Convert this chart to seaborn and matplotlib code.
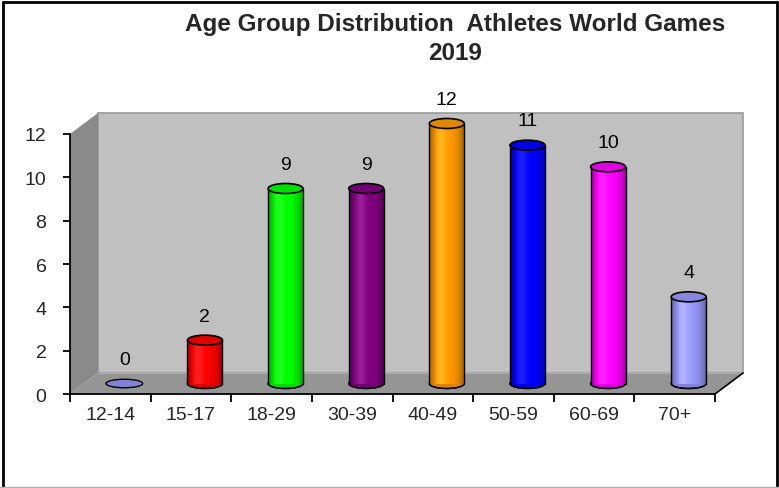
import numpy as np
import pandas as pd
import matplotlib
matplotlib.use("Agg")
import matplotlib.pyplot as plt
from matplotlib.patches import Polygon, Ellipse, Rectangle, Arc
import matplotlib.colors as mcolors
import seaborn as sns

# ---- data ----
categories = ["12-14", "15-17", "18-29", "30-39", "40-49", "50-59", "60-69", "70+"]
values = [0, 2, 9, 9, 12, 11, 10, 4]
colors = ["#9999ff", "#ff0000", "#00ff00", "#800080", "#ff9900", "#0000ff", "#ff00ff", "#9999ff"]
yticks = [0, 2, 4, 6, 8, 10, 12]
title_lines = ["Age Group Distribution  Athletes World Games", "2019"]

sns.set_theme(style="white")
plt.rcParams["font.family"] = ["Liberation Sans", "DejaVu Sans"]

W, H = 779, 489
fig = plt.figure(figsize=(W / 100, H / 100), dpi=100)
fig.patch.set_facecolor("white")

# axes: pixel x 70..743, pixel y 395(bottom)..115(top)
x0, x1 = 70, 743
yb, yt = 395, 115
ax = fig.add_axes([x0 / W, 1 - yb / H, (x1 - x0) / W, (yb - yt) / H])
n = len(categories)
px_per_cat = (715 - 70) / n
px_per_unit = (395 - 135) / 12.0
xlim = (-0.5, -0.5 + (x1 - x0) / px_per_cat)
ylim = (0, (yb - yt) / px_per_unit)
dx = 28 / px_per_cat   # depth offset in category units
dy = 21 / px_per_unit  # depth offset in value units

df = pd.DataFrame({"cat": categories, "val": values})
bw = 35 / px_per_cat
sns.barplot(data=df, x="cat", y="val", hue="cat", palette=colors, width=bw,
            legend=False, ax=ax, saturation=1, zorder=5)
ax.set_xlim(*xlim)
ax.set_ylim(*ylim)
ax.set_facecolor("none")
ax.grid(False)

ymax = yticks[-1]
# back wall
ax.add_patch(Polygon([(-0.5 + dx, dy), (n - 0.5 + dx, dy), (n - 0.5 + dx, ymax + dy), (-0.5 + dx, ymax + dy)],
                     closed=True, facecolor="#c0c0c0", edgecolor="#9a9a9a", lw=1.2, zorder=1, clip_on=False))
# left wall
ax.add_patch(Polygon([(-0.5, 0), (-0.5 + dx, dy), (-0.5 + dx, ymax + dy), (-0.5, ymax)],
                     closed=True, facecolor="#8a8a8a", edgecolor="none", lw=0, zorder=1.5, clip_on=False))
# floor
ax.add_patch(Polygon([(-0.5, 0), (n - 0.5, 0), (n - 0.5 + dx, dy), (-0.5 + dx, dy)],
                     closed=True, facecolor="#959595", edgecolor="none", lw=0, zorder=2, clip_on=False))
ax.plot([-0.5 + dx, n - 0.5 + dx], [dy, dy], color="#b0b0b0", lw=0.8, zorder=2.1, clip_on=False)
ax.plot([n - 0.5, n - 0.5 + dx], [0, dy], color="black", lw=1.2, zorder=3, clip_on=False)

# cylinders
eh = 10 / px_per_unit
base = dy / 2
bars = [pp for pp in ax.patches if isinstance(pp, Rectangle) and abs(pp.get_width() - bw) < 1e-6]
for p, v, c in zip(bars, values, colors):
    cx = p.get_x() + p.get_width() / 2 + dx / 2
    p.set_x(cx - bw / 2)
    p.set_y(base)
    p.set_height(v)
    rgb = np.array(mcolors.to_rgb(c))
    if v > 0:
        p.set_facecolor("none")
        p.set_edgecolor("none")
        shade = np.linspace(-1, 1, 64)
        f = 1 - 0.35 * np.abs(shade) ** 2.5
        grad = np.clip(rgb[None, :] * f[:, None] + 0.12 * np.exp(-((shade + 0.35) / 0.3) ** 2)[:, None], 0, 1)
        im = ax.imshow(grad[None, :, :], extent=(cx - bw / 2, cx + bw / 2, base, base + v),
                       aspect="auto", zorder=5, interpolation="bilinear")
        body = Polygon([(cx - bw / 2, base), (cx - bw / 2, base + v), (cx + bw / 2, base + v), (cx + bw / 2, base)],
                       closed=True, facecolor="none", edgecolor="none", transform=ax.transData)
        ax.add_patch(body)
        im.set_clip_path(body)
        ax.add_patch(Ellipse((cx, base), bw, eh, facecolor=tuple(rgb * 0.85), edgecolor="black", lw=1.0, zorder=4.9))
        ax.plot([cx - bw / 2, cx - bw / 2], [base, base + v], color="black", lw=1.0, zorder=6)
        ax.plot([cx + bw / 2, cx + bw / 2], [base, base + v], color="black", lw=1.0, zorder=6)
        ax.add_patch(Arc((cx, base), bw, eh, theta1=180, theta2=360, color="black", lw=1.0, zorder=6))
        ax.add_patch(Ellipse((cx, base + v), bw, eh, facecolor=tuple(rgb * 0.88), edgecolor="black", lw=1.2, zorder=7))
    else:
        p.set_visible(False)
        ax.add_patch(Ellipse((cx, base), bw * 1.05, eh * 0.85, facecolor=tuple(rgb * 0.85), edgecolor="black", lw=1.0, zorder=7))
    ax.text(cx, v + 1.6, f"{v}", ha="center", va="center", fontsize=14, color="black", zorder=8)

# axes styling
for s in ["top", "right"]:
    ax.spines[s].set_visible(False)
ax.spines["left"].set_bounds(0, ymax)
ax.spines["bottom"].set_bounds(-0.5, n - 0.5)
for s in ["left", "bottom"]:
    ax.spines[s].set_color("black")
    ax.spines[s].set_linewidth(1.3)
    ax.spines[s].set_zorder(9)
ax.set_yticks(yticks)
ax.set_yticklabels([str(t) for t in yticks], fontsize=14)
ax.set_xticks(np.arange(n + 1) - 0.5)
ax.set_xticklabels([""] * (n + 1))
ax.set_xticks(np.arange(n), minor=True)
ax.set_xticklabels(categories, minor=True, fontsize=14)
ax.tick_params(axis="y", which="major", direction="out", length=5, width=1.3, color="black", left=True, pad=12)
ax.tick_params(axis="x", which="major", direction="out", length=6, width=1.3, color="black", bottom=True)
ax.tick_params(axis="x", which="minor", length=0, pad=9)
ax.set_xlabel("")
ax.set_ylabel("")

# title
fig.text(455 / W, 1 - 25 / H, title_lines[0], ha="center", va="center", fontsize=17.5, fontweight="bold")
fig.text(455 / W, 1 - 53 / H, title_lines[1], ha="center", va="center", fontsize=17.5, fontweight="bold")

# frame
fig.add_artist(plt.Line2D([2.5 / W, 2.5 / W], [0, 1 - 2.5 / H], transform=fig.transFigure, color="black", lw=2))
fig.add_artist(plt.Line2D([2.5 / W, 776.5 / W], [1 - 2.5 / H, 1 - 2.5 / H], transform=fig.transFigure, color="black", lw=2))
fig.add_artist(plt.Line2D([776.5 / W, 776.5 / W], [0, 1 - 2.5 / H], transform=fig.transFigure, color="black", lw=2))
fig.add_artist(plt.Line2D([0, 1], [1.0 / H, 1.0 / H], transform=fig.transFigure, color="#b0b0b0", lw=1))

fig.savefig("out.png", dpi=100)
